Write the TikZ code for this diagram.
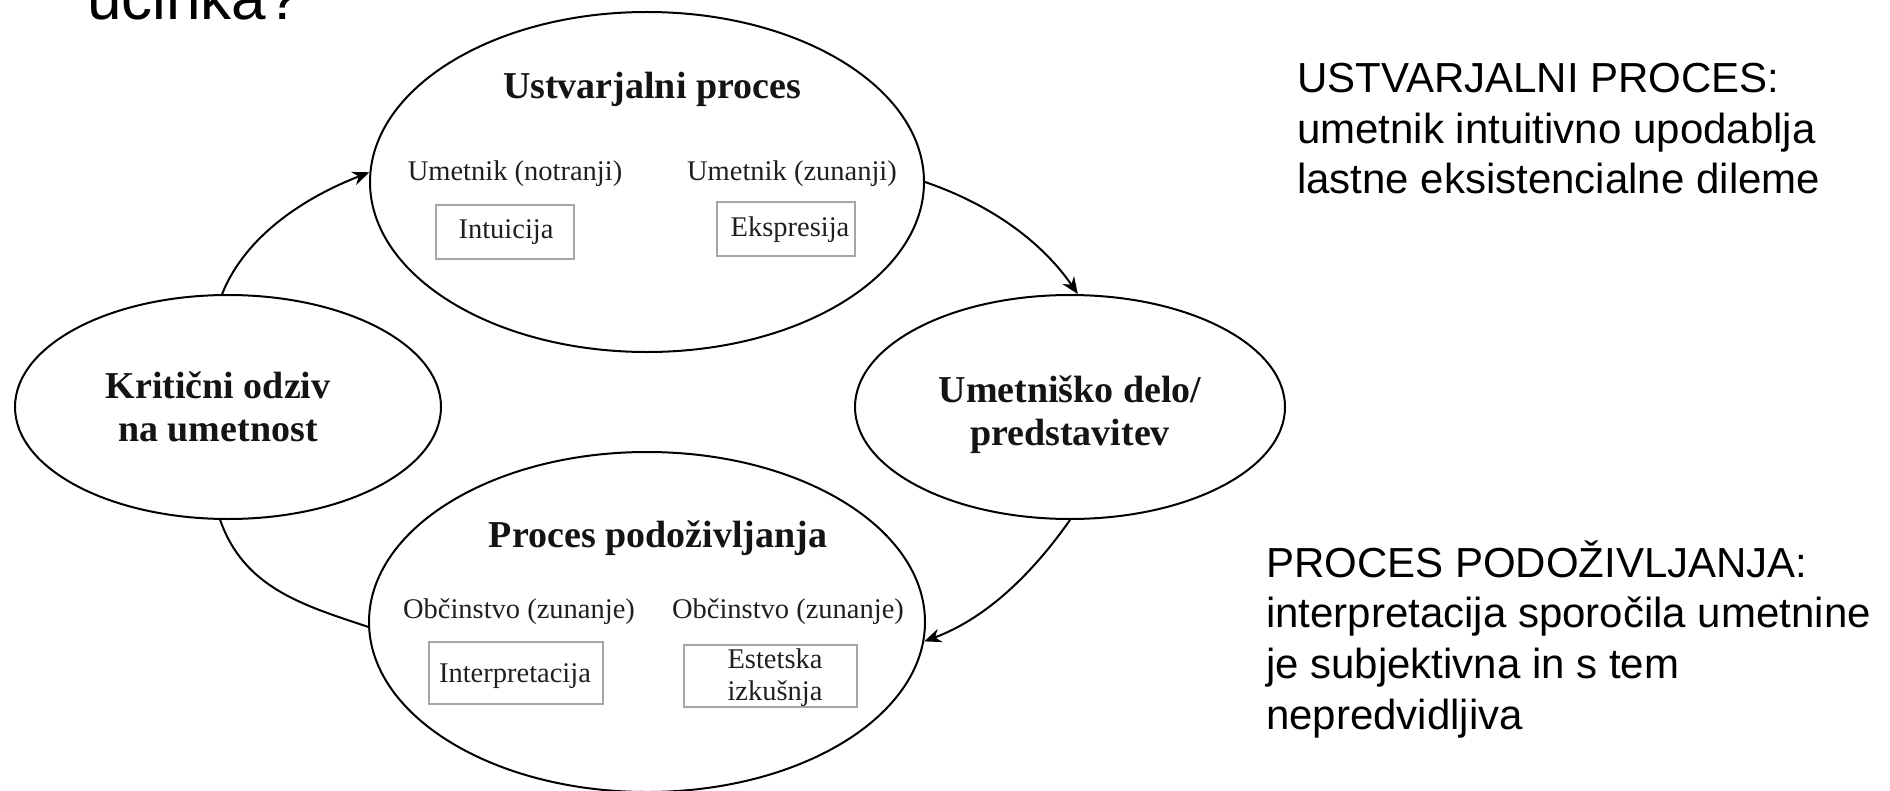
\documentclass[tikz,border=0pt]{standalone}
\usepackage{fontspec}
\setmainfont{Liberation Serif}
\newfontfamily\arialf{Liberation Sans}
\usetikzlibrary{shapes.geometric,arrows.meta}
\begin{document}
\begin{tikzpicture}[x=1bp,y=-1bp,
  ell/.style={draw, line width=2bp, ellipse, inner sep=0pt},
  bx/.style={draw=black!35, line width=1.2bp, rectangle, inner sep=0pt},
  ttl/.style={font=\fontsize{38bp}{43bp}\selectfont\bfseries, anchor=base, inner sep=0pt, text=black!92},
  sub/.style={font=\fontsize{28.5bp}{32bp}\selectfont, anchor=base, inner sep=0pt, text=black!88},
  side/.style={font=\arialf\fontsize{42bp}{50bp}\selectfont, anchor=base west, inner sep=0pt},
  conn/.style={line width=2bp},
  arr/.style={conn, -{Stealth[length=17bp,width=14bp]}}
]
\useasboundingbox (0,0) rectangle (1890,791);
\clip (0,0) rectangle (1890,791);

% title fragment
\node[anchor=base west, inner sep=0pt, font=\arialf\fontsize{62bp}{70bp}\selectfont] (ucinka) at (87,20) {učinka?};

% ellipses
\node[ell, minimum width=554bp, minimum height=340bp] (ust) at (647,182) {};
\node[ell, minimum width=556bp, minimum height=340bp] (pod) at (647,622) {};
\node[ell, minimum width=426bp, minimum height=224bp] (kr) at (228,407) {};
\node[ell, minimum width=430bp, minimum height=224bp] (um) at (1070,407) {};

% top ellipse content
\node[ttl] (ustT) at (652,98) {Ustvarjalni proces};
\node[sub] (ustL) at (515,180) {Umetnik (notranji)};
\node[sub] (ustR) at (792,180) {Umetnik (zunanji)};
\node[bx, minimum width=138bp, minimum height=54bp] (intB) at (505,232) {};
\node[sub] (intT) at (506,238) {Intuicija};
\node[bx, minimum width=138bp, minimum height=54bp] (ekB) at (786,229) {};
\node[sub] (ekT) at (790,236) {Ekspresija};

% bottom ellipse content
\node[ttl] (podT) at (658,547) {Proces podoživljanja};
\node[sub] (podL) at (519,618) {Občinstvo (zunanje)};
\node[sub] (podR) at (788,618) {Občinstvo (zunanje)};
\node[bx, minimum width=174bp, minimum height=62bp] (inB) at (516,673) {};
\node[sub] (inT) at (515,682) {Interpretacija};
\node[bx, minimum width=173bp, minimum height=62bp] (esB) at (770.5,676) {};
\node[sub] (esT1) at (775,668) {Estetska};
\node[sub] (esT2) at (775,700) {izkušnja};

% side ellipses content
\node[ttl] (krT1) at (218,398) {Kritični odziv};
\node[ttl] (krT2) at (218,441) {na umetnost};
\node[ttl] (umT1) at (1070,402) {Umetniško delo/};
\node[ttl] (umT2) at (1070,445) {predstavitev};

% connectors
\draw[arr] (kr.93) .. controls +(24,-60) and +(-62,24) .. (ust.178.5);
\draw[arr] (ust.east) .. controls +(67,23) and +(-36,-52) .. (um.86);
\draw[arr] (um.south) .. controls +(-38,54) and +(62,-23) .. (pod.-4);
\draw[conn] (pod.181) .. controls +(-66,-22) and +(24,68) .. (kr.266);

% right texts
\node[side] (s1) at (1297,93) {USTVARJALNI PROCES:};
\node[side] (s2) at (1297,143) {umetnik intuitivno upodablja};
\node[side] (s3) at (1297,193) {lastne eksistencialne dileme};
\node[side] (p1) at (1266,577) {PROCES PODOŽIVLJANJA:};
\node[side] (p2) at (1266,627) {interpretacija sporočila umetnine};
\node[side] (p3) at (1266,678) {je subjektivna in s tem};
\node[side] (p4) at (1266,729) {nepredvidljiva};
\end{tikzpicture}
\end{document}
